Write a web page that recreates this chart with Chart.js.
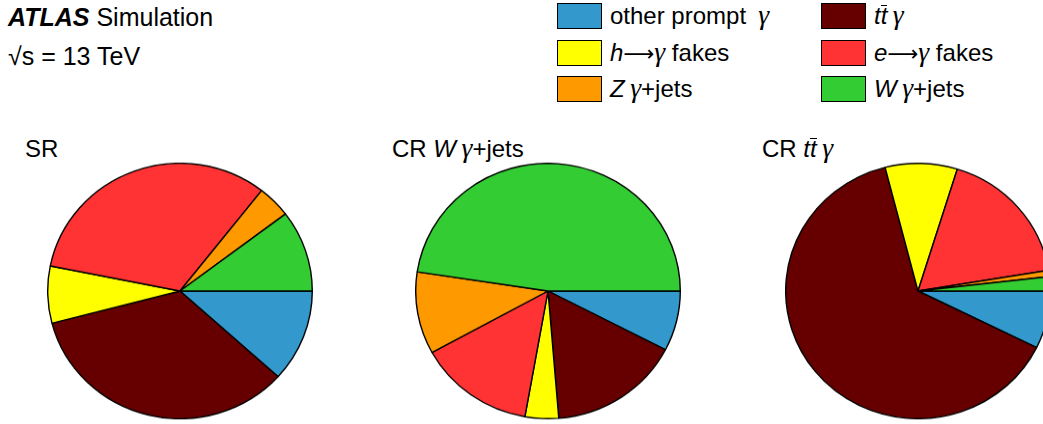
<!DOCTYPE html>
<html>
<head>
<meta charset="utf-8">
<script src="https://cdn.jsdelivr.net/npm/chart.js@4.4.0/dist/chart.umd.min.js"></script>
<style>
  body { margin: 0; background: #fff; overflow: hidden; }
  #page { position: relative; width: 1043px; height: 424px; overflow: hidden;
          font-family: "Liberation Sans", Arial, sans-serif; color: #000; }
  .txt { position: absolute; white-space: nowrap; line-height: 1; }
  .g { font-family: "Liberation Serif", serif; font-style: italic; font-size: 1.15em; line-height: 0; }
  .ar { font-family: "DejaVu Sans", sans-serif; font-size: 0.9em; }
  .pie { position: absolute; transform: scaleY(0.965); transform-origin: 50% 50%; }
  .box { position: absolute; width: 43px; height: 24px; border: 1px solid #000; }
  .bar { display: inline-block; border-top: 1.5px solid #000; line-height: 0.85; }
</style>
</head>
<body>
<div id="page">
  <div class="txt" style="left:8px; top:5px; font-size:25px;"><b><i>ATLAS</i></b> Simulation</div>
  <div class="txt" style="left:8px; top:44px; font-size:25px;">&radic;s = 13 TeV</div>

  <div class="txt" style="left:25px; top:137px; font-size:24px;">SR</div>
  <div class="txt" style="left:392px; top:137px; font-size:24px;">CR <i>W</i><span class="g">&thinsp;γ</span>+jets</div>
  <div class="txt" style="left:762px; top:137px; font-size:24px;">CR <i>t</i><i class="bar">t</i><span class="g">&thinsp;γ</span></div>

  <div id="legend"></div>

  <canvas id="pieSR" class="pie" width="266" height="266" style="left:47px; top:158px;"></canvas>
  <canvas id="pieW" class="pie" width="266" height="266" style="left:415px; top:158px;"></canvas>
  <canvas id="pieTT" class="pie" width="266" height="266" style="left:785px; top:158px;"></canvas>
</div>
<script>
// processes, in the order they go round the pies (clockwise from 3 o'clock)
const processes = ["other prompt γ", "tt̄γ", "h→γ fakes", "e→γ fakes", "Zγ+jets", "Wγ+jets"];
const colors = ["#3399cc", "#660000", "#ffff00", "#ff3333", "#ff9900", "#33cc33"];

// fractions in percent
const srFrac = [11.7, 34.2, 7.2, 32.4, 4.1, 10.3];
const crWFrac = [7.6, 16.1, 4.1, 14.2, 10.4, 47.6];
const crTTFrac = [7.3, 63.7, 8.8, 17.6, 0.8, 1.8];

// legend: label markup + which process colour, laid out in two columns
const legendLabels = [
  'other prompt <span class="g">&thinsp;γ</span>',
  '<i>h</i><span class="ar">&#x27F6;</span><span class="g">γ</span> fakes',
  '<i>Z</i><span class="g">&thinsp;γ</span>+jets',
  '<i>t</i><i class="bar">t</i><span class="g">&thinsp;γ</span>',
  '<i>e</i><span class="ar">&#x27F6;</span><span class="g">γ</span> fakes',
  '<i>W</i><span class="g">&thinsp;γ</span>+jets'
];
const legendColors = [colors[0], colors[2], colors[4], colors[1], colors[3], colors[5]];

function buildLegend() {
  const leg = document.getElementById("legend");
  let html = "";
  for (let i = 0; i < legendLabels.length; i++) {
    const col = Math.floor(i / 3);
    const row = i % 3;
    const bx = col === 0 ? 557 : 821;
    const tx = col === 0 ? 610 : 874;
    const y = 3 + row * 36.5;
    html += `<div class="box" style="left:${bx}px; top:${y}px; background:${legendColors[i]};"></div>`;
    html += `<div class="txt" style="left:${tx}px; top:${y + 1}px; font-size:24px;">${legendLabels[i]}</div>`;
  }
  leg.innerHTML = html;
}

function makePie(id, values) {
  const ctx = document.getElementById(id).getContext("2d");
  return new Chart(ctx, {
    type: "pie",
    data: {
      labels: processes,
      datasets: [{
        data: values,
        backgroundColor: colors,
        borderColor: "#000",
        borderWidth: 1.4,
        hoverOffset: 0,
        offset: 0
      }]
    },
    options: {
      responsive: false,
      animation: false,
      rotation: 90,
      layout: { padding: 0 },
      plugins: {
        legend: { display: false },
        tooltip: { enabled: false }
      }
    }
  });
}

buildLegend();
makePie("pieSR", srFrac);
makePie("pieW", crWFrac);
makePie("pieTT", crTTFrac);
</script>
</body>
</html>
